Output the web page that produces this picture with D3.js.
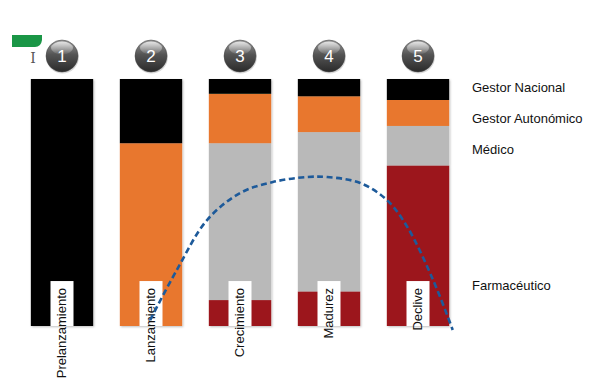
<!DOCTYPE html>
<html><head><meta charset="utf-8">
<script src="https://cdn.jsdelivr.net/npm/d3@7/dist/d3.min.js"></script>
<style>html,body{margin:0;padding:0;background:#fff;}svg{display:block;font-family:Arial,"Liberation Sans",Helvetica,sans-serif;}</style>
</head><body>
<script>
// ---- data ----
const stages = ["Prelanzamiento","Lanzamiento","Crecimiento","Madurez","Declive"];
const stageNumbers = ["1","2","3","4","5"];
const seriesNames = ["Farmacéutico","Médico","Gestor Autonómico","Gestor Nacional"]; // bottom to top
const farmaceutico = [0, 0, 10.5, 14, 65];
const medico       = [0, 0, 63.5, 64.5, 16];
const gestorAuton  = [0, 74, 20, 14.5, 10.5];
const gestorNac    = [100, 26, 6, 7, 8.5];
const seriesColors = ["#9c161c","#b9b9b9","#e8772e","#050505"];
// dashed life-cycle curve: stage position (0 = first stage) and level (% of bar height)
const curveStage = [0.99, 1.29, 1.63, 2.0, 2.37, 2.75, 2.98, 3.35, 3.65, 3.88, 4.17, 4.39];
const curveLevel = [2.4, 22.7, 42.9, 53.8, 58.3, 60.3, 60.3, 57.9, 51.0, 40.1, 18.6, -1.6];
// legend label positions expressed as level on the same % scale
const legendLevel = [15.8, 71, 83.5, 96];

const W = 600, H = 384;
const svg = d3.select("body").append("svg").attr("width", W).attr("height", H);
const defs = svg.append("defs");

const x = d3.scaleBand().domain(stages).range([17.5, 462.5]).paddingInner(0.3).paddingOuter(0.15);
const y = d3.scaleLinear().domain([0, 100]).range([326, 79]);
const xStage = d3.scaleLinear().domain([0, stages.length - 1])
  .range([x(stages[0]) + x.bandwidth()/2, x(stages[stages.length-1]) + x.bandwidth()/2]);

// shadow filter
const f = defs.append("filter").attr("id","sh").attr("x","-10%").attr("y","-10%").attr("width","130%").attr("height","130%");
f.append("feDropShadow").attr("dx",1).attr("dy",1).attr("stdDeviation",1).attr("flood-color","#000").attr("flood-opacity",0.25);

// circle gradient
const g1 = defs.append("linearGradient").attr("id","cg").attr("x1",0).attr("y1",0).attr("x2",0).attr("y2",1);
g1.append("stop").attr("offset","0%").attr("stop-color","#9a9a9a");
g1.append("stop").attr("offset","45%").attr("stop-color","#555");
g1.append("stop").attr("offset","100%").attr("stop-color","#2a2a2a");
const g2 = defs.append("linearGradient").attr("id","hg").attr("x1",0).attr("y1",0).attr("x2",0).attr("y2",1);
g2.append("stop").attr("offset","0%").attr("stop-color","#fff").attr("stop-opacity",0.75);
g2.append("stop").attr("offset","100%").attr("stop-color","#fff").attr("stop-opacity",0.05);

// stacked data
const rows = stages.map((s, i) => ({stage: s, "Farmacéutico": farmaceutico[i], "Médico": medico[i], "Gestor Autonómico": gestorAuton[i], "Gestor Nacional": gestorNac[i]}));
const stacked = d3.stack().keys(seriesNames)(rows);

const barsG = svg.append("g").attr("filter","url(#sh)");
stacked.forEach((layer, li) => {
  barsG.selectAll(null).data(layer).enter().append("rect")
    .attr("x", d => x(d.data.stage))
    .attr("width", x.bandwidth())
    .attr("y", d => y(d[1]))
    .attr("height", d => Math.max(0, y(d[0]) - y(d[1])))
    .attr("fill", seriesColors[li]);
});

// label boxes and rotated labels
const lab = svg.append("g");
stages.forEach((s, i) => {
  const cx = x(s) + x.bandwidth()/2;
  lab.append("rect").attr("x", cx - 11.5).attr("y", y(18.2)).attr("width", 23).attr("height", y(0) - y(18.2)).attr("fill", "#fff");
  lab.append("text")
    .attr("transform", `translate(${cx + 1},${y(15.4)}) rotate(-90)`)
    .attr("text-anchor", "end").attr("dominant-baseline", "middle")
    .attr("font-size", 13).attr("fill", "#111").text(s);
});

// numbered circles
const circ = svg.append("g");
stages.forEach((s, i) => {
  const cx = x(s) + x.bandwidth()/2, cy = 56;
  circ.append("circle").attr("cx", cx+0.5).attr("cy", cy+1).attr("r", 16.5).attr("fill", "#000").attr("opacity", 0.15);
  circ.append("circle").attr("cx", cx).attr("cy", cy).attr("r", 16).attr("fill", "url(#cg)").attr("stroke","#444").attr("stroke-width",0.5);
  circ.append("ellipse").attr("cx", cx).attr("cy", cy - 8).attr("rx", 11).attr("ry", 6.5).attr("fill", "url(#hg)");
  circ.append("text").attr("x", cx).attr("y", cy + 6).attr("text-anchor", "middle")
    .attr("font-size", 17).attr("fill", "#fff").text(stageNumbers[i]);
});

// dashed curve
const pts = curveStage.map((s, i) => [xStage(s), y(curveLevel[i])]);
svg.append("path").attr("d", d3.line().curve(d3.curveCatmullRom.alpha(0.5))(pts))
  .attr("fill", "none").attr("stroke", "#1d5a9a").attr("stroke-width", 2.6).attr("stroke-dasharray", "6,3.5");

// legend labels
const lg = svg.append("g");
seriesNames.forEach((n, i) => {
  lg.append("text").attr("x", 472).attr("y", y(legendLevel[i])).attr("dominant-baseline", "middle")
    .attr("font-size", 13).attr("fill", "#111").text(n);
});

// decorative green tab and text cursor
svg.append("path").attr("d", "M12,35 H42 V40 Q41,47 35,47 H12 Z").attr("fill", "#1a9646");
svg.append("text").attr("x", 33).attr("y", 63).attr("text-anchor","middle").attr("font-family","'DejaVu Serif',serif").attr("font-size", 14).attr("fill", "#555").text("I");
</script>
</body></html>
